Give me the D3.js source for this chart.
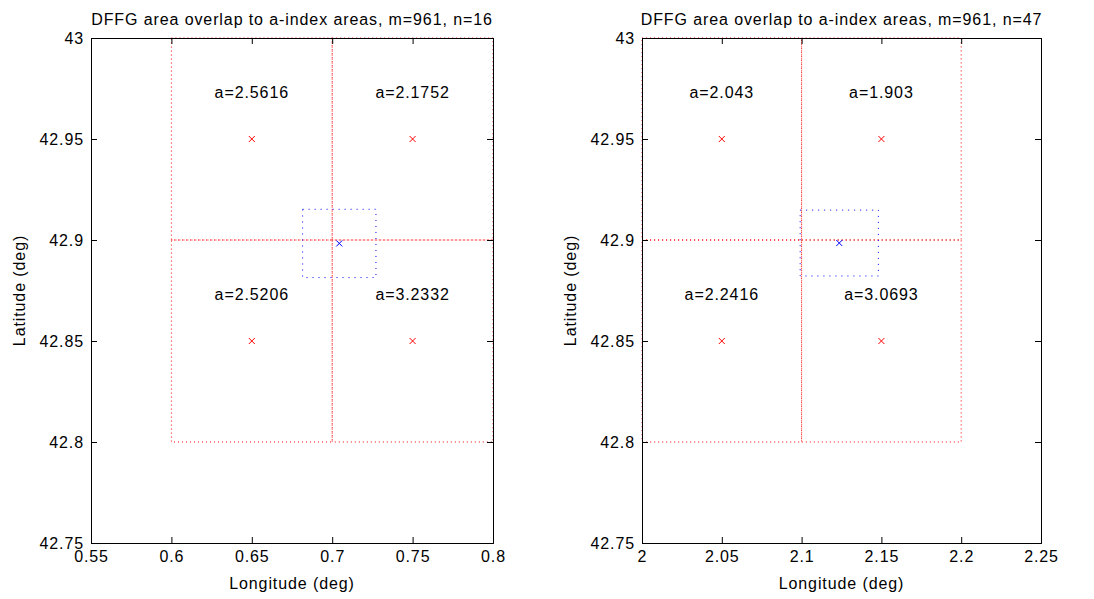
<!DOCTYPE html>
<html>
<head>
<meta charset="utf-8">
<script src="https://cdn.jsdelivr.net/npm/d3@7"></script>
<style>
  body { margin: 0; background: #fff; }
  svg { display: block; font-family: Arial, "Liberation Sans", sans-serif; }
  svg text { letter-spacing: 0.9px; }
</style>
</head>
<body>
<svg width="1094" height="599"></svg>
<script>
// left panel
const leftLon = [0.65, 0.75, 0.65, 0.75];
const leftLat = [42.95, 42.95, 42.85, 42.85];
const leftA = ['a=2.5616', 'a=2.1752', 'a=2.5206', 'a=3.2332'];
const leftDffg = [0.7044, 42.8983];
const leftDffgHalf = [0.0228, 0.0169];
const leftXTicks = [0.55, 0.6, 0.65, 0.7, 0.75, 0.8];

// right panel
const rightLon = [2.05, 2.15, 2.05, 2.15];
const rightLat = [42.95, 42.95, 42.85, 42.85];
const rightA = ['a=2.043', 'a=1.903', 'a=2.2416', 'a=3.0693'];
const rightDffg = [2.1236, 42.8985];
const rightDffgHalf = [0.0245, 0.0163];
const rightXTicks = [2, 2.05, 2.1, 2.15, 2.2, 2.25];

const yTicks = [42.75, 42.8, 42.85, 42.9, 42.95, 43];
const cellHalf = 0.05;

const SVG = d3.select('svg');
const TOP = 38;
const BOTTOM = 543;
const FONT = 16;

function panel(opt) {
  const X = d3.scaleLinear().domain(opt.xDomain).range([opt.left, opt.right]);
  const Y = d3.scaleLinear().domain([42.75, 43]).range([BOTTOM, TOP]);
  const G = SVG.append('g');

  // a-index cells (red dotted)
  opt.lon.forEach((lon, i) => {
    const lat = opt.lat[i];
    G.append('rect')
      .attr('x', X(lon - cellHalf))
      .attr('y', Y(lat + cellHalf))
      .attr('width', X(lon + cellHalf) - X(lon - cellHalf))
      .attr('height', Y(lat - cellHalf) - Y(lat + cellHalf))
      .style('fill', 'none')
      .style('stroke', '#ff0000')
      .style('stroke-width', 1)
      .style('stroke-dasharray', '1,3');
  });

  // DFFG area (blue dotted)
  const [cx, cy] = opt.dffg;
  const [hx, hy] = opt.half;
  G.append('rect')
    .attr('x', X(cx - hx))
    .attr('y', Y(cy + hy))
    .attr('width', X(cx + hx) - X(cx - hx))
    .attr('height', Y(cy - hy) - Y(cy + hy))
    .style('fill', 'none')
    .style('stroke', '#0000ff')
    .style('stroke-width', 1)
    .style('stroke-dasharray', '1,5');

  // x markers
  const cross = (px, py, s, color) => {
    G.append('path')
      .attr('d', `M${px - s},${py - s}L${px + s},${py + s}M${px - s},${py + s}L${px + s},${py - s}`)
      .style('stroke', color)
      .style('stroke-width', 1)
      .style('fill', 'none');
  };
  opt.lon.forEach((lon, i) => cross(X(lon), Y(opt.lat[i]), 3, '#ff0000'));
  cross(X(cx), Y(cy), 3, '#0000ff');

  // labels
  opt.lon.forEach((lon, i) => {
    G.append('text')
      .attr('x', X(lon))
      .attr('y', Y(opt.lat[i] + 0.023))
      .attr('dy', '0.35em')
      .style('text-anchor', 'middle')
      .style('font-size', FONT + 'px')
      .text(opt.a[i]);
  });

  // axes box with inward ticks
  const xb = d3.axisBottom(X).tickValues(opt.xTicks).tickSize(-6).tickPadding(8).tickFormat(d3.format('~g'));
  const xt = d3.axisTop(X).tickValues(opt.xTicks).tickSize(-6).tickFormat('');
  const yl = d3.axisLeft(Y).tickValues(yTicks).tickSize(-6).tickPadding(7).tickFormat(d3.format('~g'));
  const yr = d3.axisRight(Y).tickValues(yTicks).tickSize(-6).tickFormat('');
  [[xb, `translate(0,${BOTTOM})`], [xt, `translate(0,${TOP})`], [yl, `translate(${opt.left},0)`], [yr, `translate(${opt.right},0)`]]
    .forEach(([ax, tr]) => {
      const a = G.append('g').attr('transform', tr).call(ax);
      a.select('.domain').attr('stroke', '#000');
      a.selectAll('text').style('font-size', FONT + 'px').style('font-family', 'Arial, "Liberation Sans", sans-serif').attr('fill', '#000');
    });

  // title and axis labels
  const mid = (opt.left + opt.right) / 2;
  G.append('text').attr('x', mid).attr('y', 25).style('text-anchor', 'middle').style('font-size', FONT + 'px').text(opt.title);
  G.append('text').attr('x', mid).attr('y', 589).style('text-anchor', 'middle').style('font-size', FONT + 'px').text('Longitude (deg)');
  G.append('text')
    .attr('transform', `translate(${opt.left - 66},${(TOP + BOTTOM) / 2}) rotate(-90)`)
    .style('text-anchor', 'middle')
    .style('font-size', FONT + 'px')
    .text('Latitude (deg)');
}

panel({
  left: 91, right: 493, xDomain: [0.55, 0.8], xTicks: leftXTicks,
  lon: leftLon, lat: leftLat, a: leftA, dffg: leftDffg, half: leftDffgHalf,
  title: 'DFFG area overlap to a-index areas, m=961, n=16'
});
panel({
  left: 642, right: 1041, xDomain: [2, 2.25], xTicks: rightXTicks,
  lon: rightLon, lat: rightLat, a: rightA, dffg: rightDffg, half: rightDffgHalf,
  title: 'DFFG area overlap to a-index areas, m=961, n=47'
});
</script>
</body>
</html>
